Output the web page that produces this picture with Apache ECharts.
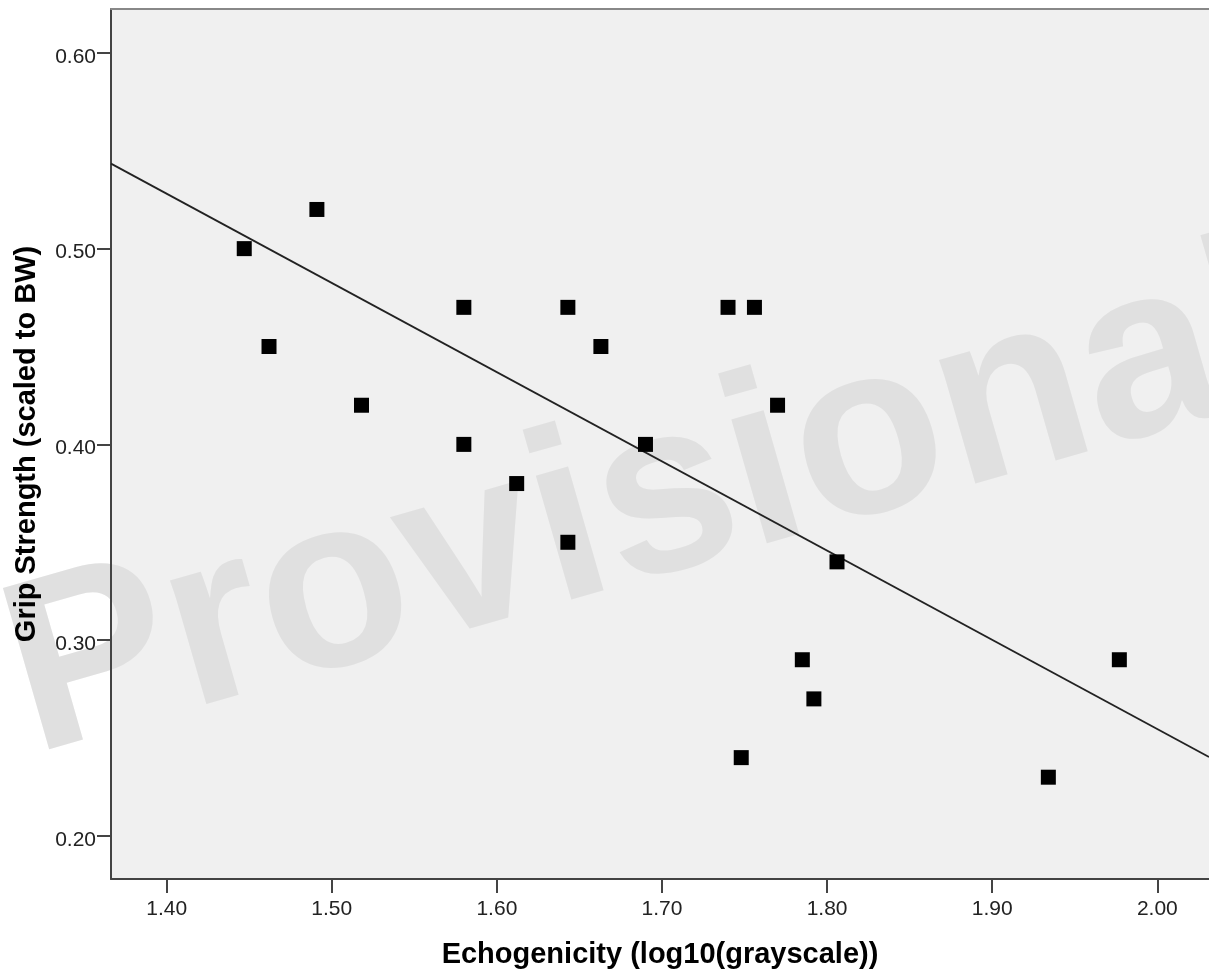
<!DOCTYPE html>
<html>
<head>
<meta charset="utf-8">
<script src="https://cdn.jsdelivr.net/npm/echarts@6/dist/echarts.min.js"></script>
<style>
html,body{margin:0;padding:0;background:#fff;}
#chart{width:1209px;height:973px;}
</style>
</head>
<body>
<div id="chart"></div>
<script>
// Data
var echogenicity = [1.447, 1.462, 1.491, 1.518, 1.580, 1.580, 1.612, 1.643, 1.643, 1.663,
                    1.690, 1.740, 1.756, 1.748, 1.770, 1.785, 1.792, 1.806, 1.934, 1.977];
var gripStrength = [0.50, 0.45, 0.52, 0.42, 0.47, 0.40, 0.38, 0.47, 0.35, 0.45,
                    0.40, 0.47, 0.47, 0.24, 0.42, 0.29, 0.27, 0.34, 0.23, 0.29];
// Fit line end points (at the axis limits)
var fitX = [1.3663, 2.0313];
var fitY = [0.5434, 0.2403];
var xTicks = ['1.40', '1.50', '1.60', '1.70', '1.80', '1.90', '2.00'];
var yTicks = ['0.20', '0.30', '0.40', '0.50', '0.60'];
var xTitle = 'Echogenicity (log10(grayscale))';
var yTitle = 'Grip Strength (scaled to BW)';
var watermark = 'Provisional';

var points = echogenicity.map(function (x, i) { return [x, gripStrength[i]]; });
var fitLine = fitX.map(function (x, i) { return [x, fitY[i]]; });

var FONT = '"Liberation Sans", Arial, sans-serif';
var chart = echarts.init(document.getElementById('chart'), null, {renderer: 'canvas'});
var xMin = fitX[0], xMax = fitX[1];
var yMin = 0.178, yMax = 0.6224;

chart.setOption({
  animation: false,
  backgroundColor: '#ffffff',
  grid: {left: 111, top: 9, right: 0, bottom: 94, show: true, backgroundColor: '#f0f0f0',
         borderWidth: 0, z: 0, containLabel: false, outerBoundsMode: 'none'},
  graphic: [{
    type: 'text',
    z: 1,
    x: 15, y: 689,
    rotation: 16 * Math.PI / 180,
    silent: true,
    style: {
      text: watermark,
      font: 'bold 244px ' + FONT,
      fill: '#e0e0e0',
      align: 'left',
      verticalAlign: 'middle'
    }
  }],
  xAxis: [{
    type: 'value', min: xMin, max: xMax, z: 3,
    axisLine: {show: true, onZero: false, lineStyle: {color: '#444', width: 2}},
    axisTick: {show: true, length: 14, lineStyle: {color: '#444', width: 2},
      customValues: xTicks.map(Number)},
    axisLabel: {show: true, margin: 20, color: '#222', fontSize: 21, fontFamily: FONT,
      customValues: xTicks.map(Number),
      formatter: function (v) { return v.toFixed(2); }},
    splitLine: {show: false},
    name: xTitle, nameLocation: 'middle', nameGap: 61,
    nameTextStyle: {color: '#000', fontSize: 29, fontWeight: 'bold', fontFamily: FONT}
  }, {
    type: 'value', position: 'top', min: xMin, max: xMax, z: 3,
    axisLine: {show: true, onZero: false, lineStyle: {color: '#888', width: 2}},
    axisTick: {show: false}, axisLabel: {show: false}, splitLine: {show: false}
  }],
  yAxis: [{
    type: 'value', min: yMin, max: yMax, z: 3,
    axisLine: {show: true, onZero: false, lineStyle: {color: '#444', width: 2}},
    axisTick: {show: true, length: 14, lineStyle: {color: '#444', width: 2},
      customValues: yTicks.map(Number)},
    axisLabel: {show: true, margin: 15, color: '#222', fontSize: 21, fontFamily: FONT,
      verticalAlign: 'top', lineHeight: 8,
      customValues: yTicks.map(Number),
      formatter: function (v) { return v.toFixed(2); }},
    splitLine: {show: false},
    name: yTitle, nameLocation: 'middle', nameGap: 70, nameRotate: 90,
    nameTextStyle: {color: '#000', fontSize: 29, fontWeight: 'bold', fontFamily: FONT}
  }],
  series: [{
    type: 'line', z: 4, data: fitLine, symbol: 'none', silent: true,
    lineStyle: {color: '#222', width: 1.8}
  }, {
    type: 'scatter', z: 5, data: points, symbol: 'rect', symbolSize: 15,
    itemStyle: {color: '#000', opacity: 1}
  }]
});
</script>
</body>
</html>
